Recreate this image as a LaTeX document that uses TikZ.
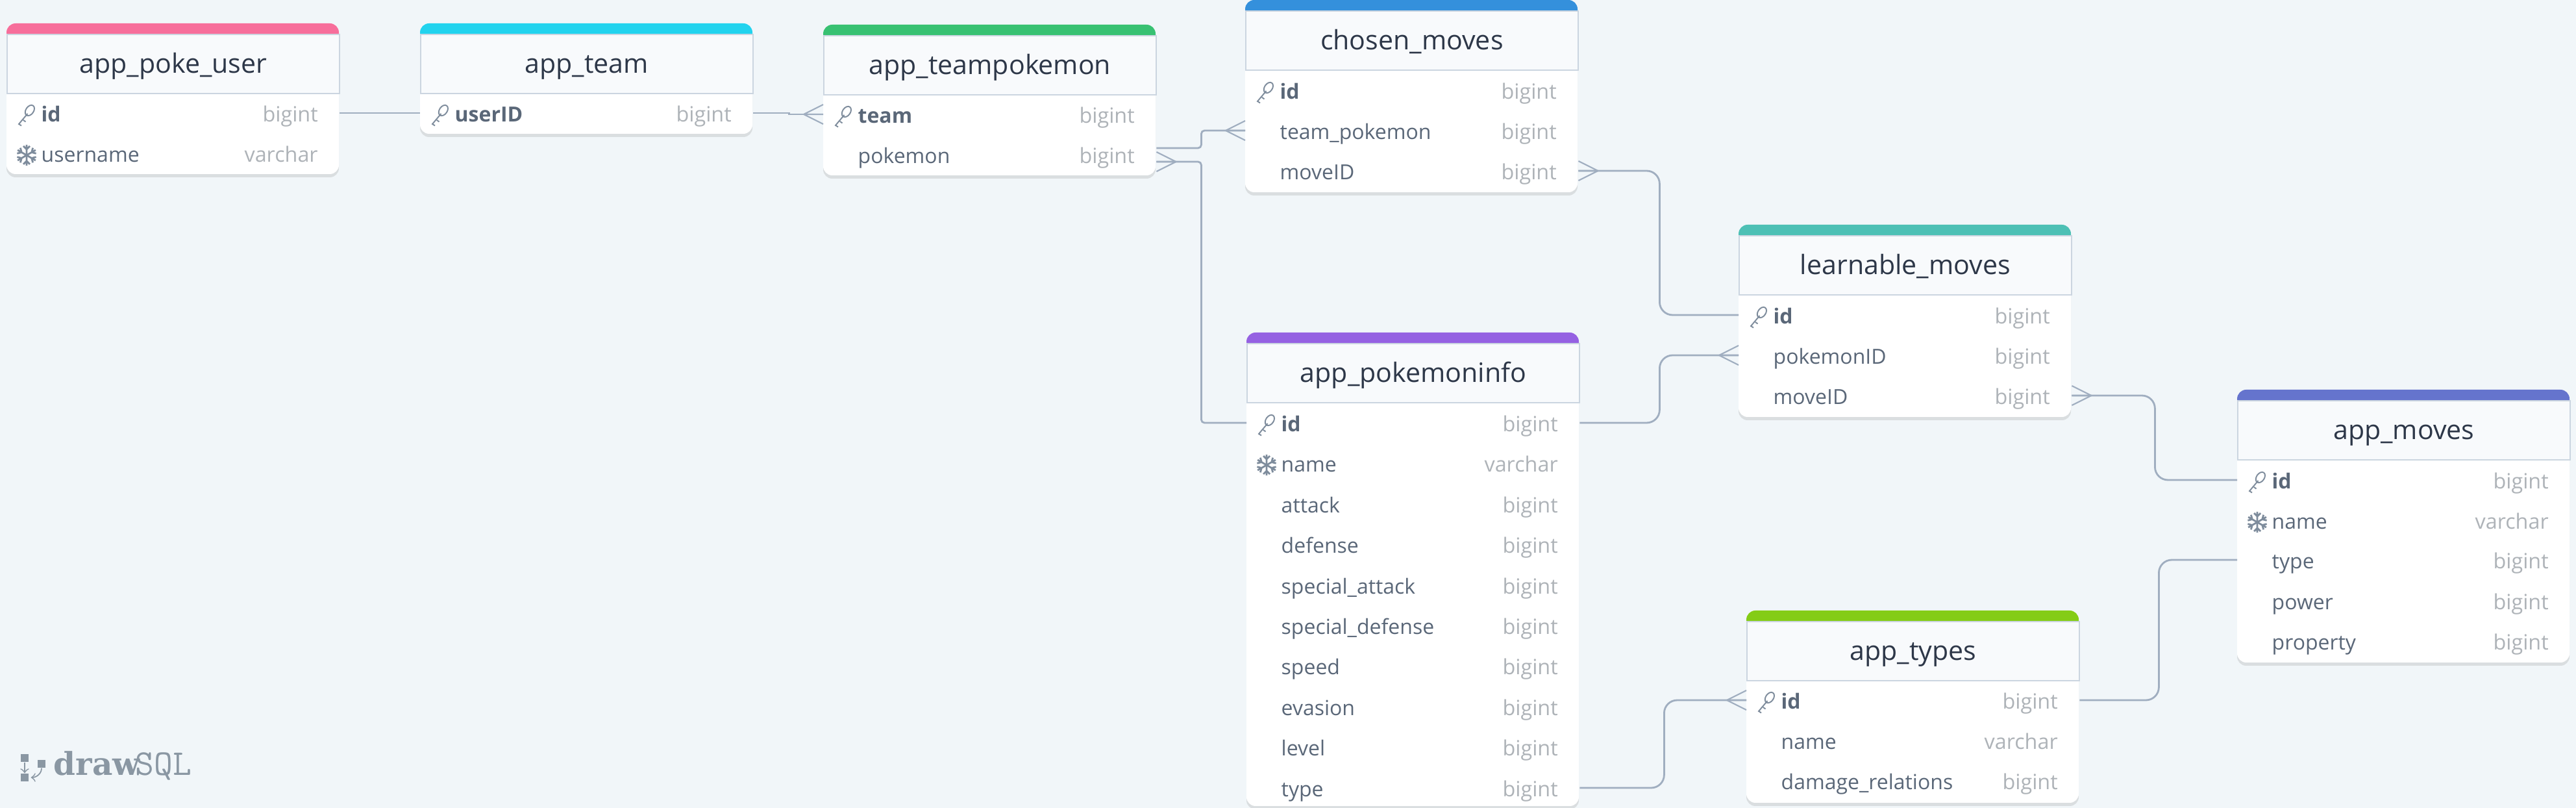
\documentclass[tikz,border=0pt]{standalone}
\usepackage{fontspec}
\setmainfont{Open Sans}
\newfontfamily\logofont{DejaVu Serif}
\usetikzlibrary{shadows}

\definecolor{pagebg}{HTML}{F1F6F9}
\definecolor{headbg}{HTML}{F8FAFC}
\definecolor{edge}{HTML}{CBD5E0}
\definecolor{conn}{HTML}{A0AEC0}
\definecolor{titleink}{HTML}{2D3748}
\definecolor{fieldink}{HTML}{5A6778}
\definecolor{typeink}{HTML}{AEB3B8}
\definecolor{iconink}{HTML}{7E8C9C}
\definecolor{logoink}{HTML}{8A97A3}
\definecolor{pinkhead}{HTML}{F76E9B}
\definecolor{cyanhead}{HTML}{22D3EE}
\definecolor{greenhead}{HTML}{38C172}
\definecolor{bluehead}{HTML}{3490DC}
\definecolor{purplehead}{HTML}{9561E2}
\definecolor{tealhead}{HTML}{4DC0B5}
\definecolor{indigohead}{HTML}{6574CD}
\definecolor{limehead}{HTML}{84CC16}

\tikzset{
  tablebody/.style={fill=white,rounded corners=0.14cm,drop shadow={opacity=0.2,shadow xshift=0cm,shadow yshift=-0.05cm}},
  titlebox/.style={draw=edge,line width=0.5pt,fill=headbg,anchor=north west,minimum width=5.12cm,minimum height=0.91cm,inner sep=0pt,text height=0.38cm,text depth=0.09cm,text=titleink,font=\fontsize{11.7}{13}\selectfont},
  fieldrow/.style={anchor=west,inner xsep=0.53cm,inner ysep=0pt,text width=4.06cm,align=left,minimum height=0.62cm,text height=0.38cm,text depth=0.10cm,text=fieldink,font=\fontsize{9.1}{11}\selectfont},
  typetext/.style={anchor=east,inner sep=0pt,text height=0.38cm,text depth=0.10cm,text=typeink,font=\fontsize{9.2}{11}\selectfont},
  connline/.style={draw=conn,line width=0.8pt},
  logosq/.style={fill=logoink,minimum size=0.12cm,inner sep=0pt},
  crowfoot/.pic={\draw[connline,line width=0.6pt] (0,0.15) -- (-0.30,0) -- (0,-0.15) (-0.30,0) -- (0,0);},
  keyicon/.pic={
    \draw[iconink,line width=0.55pt,rotate=-35] (0,0.085) ellipse [x radius=0.06,y radius=0.09];
    \draw[iconink,line width=0.55pt] (0.015,0.02) -- (-0.12,-0.14) -- (-0.08,-0.165) (-0.05,-0.08) -- (-0.015,-0.105);
  },
  flakeicon/.pic={
    \foreach \ang in {30,90,...,330}{
      \draw[iconink,line width=0.8pt,rotate=\ang] (0,0) -- (0.16,0) (0.09,0) -- (0.14,0.05) (0.09,0) -- (0.14,-0.05);
    }
  }
}

\begin{document}
\begin{tikzpicture}
  \useasboundingbox[fill=pagebg] (0,0) rectangle (39.68,12.44);

  % tables: name / colour / left / top / bottom / title
  \foreach \tname/\tcolor/\tx/\ttop/\tbot/\ttext in {
    poke/pinkhead/0.10/12.08/9.76/app\_poke\_user,
    team/cyanhead/6.47/12.08/10.38/app\_team,
    teampoke/greenhead/12.68/12.06/9.74/app\_teampokemon,
    chosen/bluehead/19.18/12.44/9.48/chosen\_moves,
    info/purplehead/19.20/7.32/0.03/app\_pokemoninfo,
    learn/tealhead/26.78/8.98/6.02/learnable\_moves,
    moves/indigohead/34.46/6.44/2.24/app\_moves,
    types/limehead/26.90/3.04/0.08/app\_types}{
    \fill[tablebody] (\tx,\tbot) rectangle (\tx+5.12,\ttop);
    \fill[\tcolor,rounded corners=0.14cm] (\tx,\ttop-0.16) |- (\tx+5.12,\ttop) -- (\tx+5.12,\ttop-0.16);
    \node[titlebox] (\tname) at (\tx,\ttop-0.16) {\ttext};
  }

  % rows: name / left / y / field / type
  \foreach \rowname/\rowx/\rowy/\rowtext/\rowtype in {
    poke_id/0.10/10.70/\textbf{id}/bigint,
    poke_username/0.10/10.08/username/varchar,
    team_userid/6.47/10.70/\textbf{userID}/bigint,
    teampoke_team/12.68/10.68/\textbf{team}/bigint,
    teampoke_pokemon/12.68/10.06/pokemon/bigint,
    chosen_id/19.18/11.05/\textbf{id}/bigint,
    chosen_pokemon/19.18/10.43/team\_pokemon/bigint,
    chosen_move/19.18/9.81/moveID/bigint,
    info_id/19.20/5.93/\textbf{id}/bigint,
    info_name/19.20/5.31/name/varchar,
    info_attack/19.20/4.68/attack/bigint,
    info_defense/19.20/4.06/defense/bigint,
    info_spattack/19.20/3.43/special\_attack/bigint,
    info_spdefense/19.20/2.81/special\_defense/bigint,
    info_speed/19.20/2.19/speed/bigint,
    info_evasion/19.20/1.56/evasion/bigint,
    info_level/19.20/0.94/level/bigint,
    info_type/19.20/0.31/type/bigint,
    learn_id/26.78/7.59/\textbf{id}/bigint,
    learn_pokemon/26.78/6.97/pokemonID/bigint,
    learn_move/26.78/6.35/moveID/bigint,
    moves_id/34.46/5.05/\textbf{id}/bigint,
    moves_name/34.46/4.43/name/varchar,
    moves_type/34.46/3.82/type/bigint,
    moves_power/34.46/3.19/power/bigint,
    moves_property/34.46/2.57/property/bigint,
    types_id/26.90/1.66/\textbf{id}/bigint,
    types_name/26.90/1.04/name/varchar,
    types_damage/26.90/0.42/damage\_relations/bigint}{
    \node[fieldrow] (\rowname) at (\rowx,\rowy) {\rowtext};
    \node[typetext] (\rowname_type) at ([xshift=-0.33cm]\rowname.east) {\rowtype};
  }

  % key and snowflake marks
  \foreach \keyrow in {poke_id,team_userid,teampoke_team,chosen_id,info_id,learn_id,moves_id,types_id}{
    \path ([xshift=0.31cm,yshift=-0.03cm]\keyrow.west) pic {keyicon};
  }
  \foreach \flakerow in {poke_username,info_name,moves_name}{
    \path ([xshift=0.31cm,yshift=-0.03cm]\flakerow.west) pic {flakeicon};
  }

  % connectors
  \draw[connline] (poke_id.east) -- (team_userid.west);
  \draw[connline] (team_userid.east) -- ++(0.55,0) |- (teampoke_team.west);
  \path (teampoke_team.west) pic {crowfoot};

  \draw[connline,rounded corners=0.05cm] ([yshift=0.10cm]teampoke_pokemon.east) -- ++(0.69,0) |- (chosen_pokemon.west);
  \path (chosen_pokemon.west) pic {crowfoot};

  \draw[connline,rounded corners=0.05cm] ([yshift=-0.11cm]teampoke_pokemon.east) -- ++(0.69,0) |- (info_id.west);
  \path ([yshift=-0.11cm]teampoke_pokemon.east) pic[rotate=180] {crowfoot};

  \draw[connline,rounded corners=0.2cm] (chosen_move.east) -- ++(1.25,0) |- (learn_id.west);
  \path (chosen_move.east) pic[rotate=180] {crowfoot};

  \draw[connline,rounded corners=0.2cm] (info_id.east) -- ++(1.23,0) |- (learn_pokemon.west);
  \path (learn_pokemon.west) pic {crowfoot};

  \draw[connline,rounded corners=0.2cm] (learn_move.east) -- ++(1.28,0) |- (moves_id.west);
  \path (learn_move.east) pic[rotate=180] {crowfoot};

  \draw[connline,rounded corners=0.2cm] (types_id.east) -- ++(1.22,0) |- (moves_type.west);

  \draw[connline,rounded corners=0.2cm] (info_type.east) -- ++(1.30,0) |- (types_id.west);
  \path (types_id.west) pic {crowfoot};

  % logo
  \node[logosq] (logo_top) at (0.38,0.77) {};
  \node[logosq] (logo_side) at (0.64,0.68) {};
  \node[logosq] (logo_low) at (0.38,0.47) {};
  \draw[logoink,line width=0.5pt,->] (logo_top) -- (logo_low);
  \draw[logoink,line width=0.5pt,->] (logo_side) to[out=-90,in=0] ([xshift=0.03cm]logo_low.east);
  \node[anchor=base west,inner sep=0pt,text=logoink,font=\logofont\bfseries\fontsize{13.8}{15}\selectfont] (logo_draw) at (0.82,0.50) {draw};
  \node[anchor=base west,inner sep=0pt,text=logoink,font=\ttfamily\fontsize{15.9}{17}\selectfont] (logo_sql) at (2.08,0.50) {SQL};
\end{tikzpicture}
\end{document}
